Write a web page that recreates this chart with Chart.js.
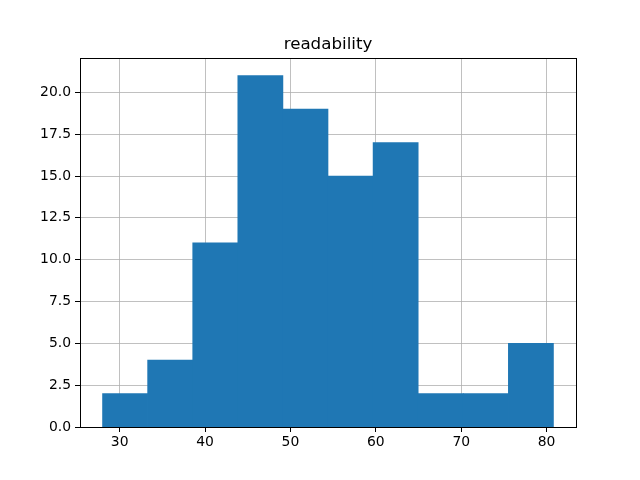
<!DOCTYPE html>
<html>
<head>
<meta charset="utf-8">
<script src="https://cdn.jsdelivr.net/npm/chart.js@4"></script>
<style>
  html, body { margin: 0; padding: 0; background: #fff; }
  #wrap { width: 640px; height: 480px; }
</style>
</head>
<body>
<div id="wrap"><canvas id="hist"></canvas></div>
<script>
// histogram of "readability" - 10 bins
const binEdges = [28, 33.28, 38.56, 43.84, 49.12, 54.4, 59.68, 64.96, 70.24, 75.52, 80.8];
const binCounts = [2, 4, 11, 21, 19, 15, 17, 2, 2, 5];
const xTicks = [30, 40, 50, 60, 70, 80];
const yTicks = [0, 2.5, 5, 7.5, 10, 12.5, 15, 17.5, 20];

const FONT = 'DejaVu Sans';

// bar centres from the edges
const points = binCounts.map((c, i) => ({ x: (binEdges[i] + binEdges[i + 1]) / 2, y: c }));

const span = binEdges[binEdges.length - 1] - binEdges[0];
const xMin = binEdges[0] - span * 0.05;
const xMax = binEdges[binEdges.length - 1] + span * 0.05;
const yMax = Math.max(...binCounts) * 1.05;

// frame round the plot area (matplotlib spines)
const frame = {
    id: 'frame',
    afterDraw(chart) {
        const { ctx, chartArea: a } = chart;
        ctx.save();
        ctx.strokeStyle = '#000';
        ctx.lineWidth = 1;
        ctx.strokeRect(Math.round(a.left) + 0.5, Math.round(a.top) + 0.5,
            Math.round(a.right - a.left), Math.round(a.bottom - a.top));
        ctx.restore();
    }
};

new Chart(document.getElementById('hist'), {
    type: 'bar',
    data: {
        datasets: [{
            data: points,
            backgroundColor: '#1f77b4',
            borderWidth: 0,
            barPercentage: 1,
            categoryPercentage: 1
        }]
    },
    options: {
        responsive: true,
        maintainAspectRatio: false,
        animation: false,
        layout: { padding: { left: 0, right: 64, top: 0, bottom: 0 } },
        plugins: {
            legend: { display: false },
            tooltip: { enabled: false },
            title: {
                display: true,
                text: 'readability',
                fullSize: false,
                color: '#000',
                font: { family: FONT, size: 16.7, weight: 'normal', lineHeight: 1.2 },
                padding: { top: 35, bottom: 3 }
            }
        },
        scales: {
            x: {
                type: 'linear',
                min: xMin,
                max: xMax,
                offset: false,
                z: 1,
                afterBuildTicks: s => { s.ticks = xTicks.map(v => ({ value: v })); },
                afterFit: s => { s.height = 53; },
                grid: { offset: false, color: '#b0b0b0', lineWidth: 0.8, tickColor: '#000', tickLength: 5, tickWidth: 1 },
                border: { color: '#000', width: 1 },
                ticks: { color: '#000', padding: 2, maxRotation: 0, font: { family: FONT, size: 13.9 },
                    callback: v => String(v) }
            },
            y: {
                min: 0,
                max: yMax,
                z: 1,
                afterBuildTicks: s => { s.ticks = yTicks.map(v => ({ value: v })); },
                afterFit: s => { s.width = 80; },
                grid: { color: '#b0b0b0', lineWidth: 0.8, tickColor: '#000', tickLength: 5, tickWidth: 1 },
                border: { color: '#000', width: 1 },
                ticks: { color: '#000', padding: 4, font: { family: FONT, size: 13.9 },
                    callback: v => v.toFixed(1) }
            }
        }
    },
    plugins: [frame]
});
</script>
</body>
</html>
